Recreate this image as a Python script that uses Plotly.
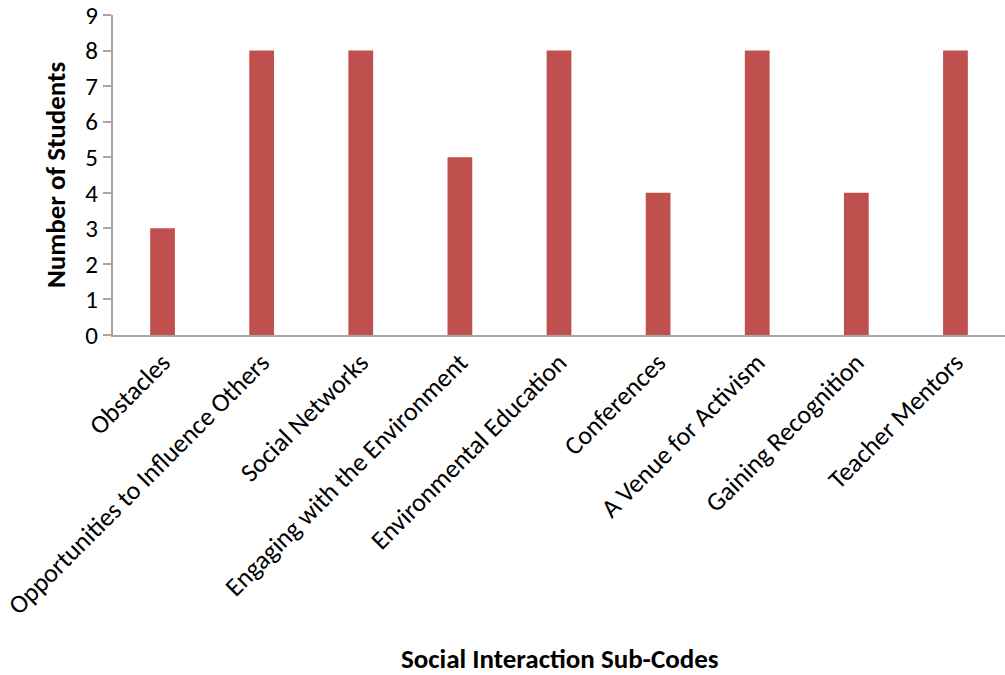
import plotly.graph_objects as go

categories = ["Obstacles", "Opportunities to Influence Others", "Social Networks",
              "Engaging with the Environment", "Environmental Education", "Conferences",
              "A Venue for Activism", "Gaining Recognition", "Teacher Mentors"]
students = [3, 8, 8, 5, 8, 4, 8, 4, 8]
y_ticks = list(range(0, 10))

FONT = "Calibri, Carlito, Lato, sans-serif"

fig = go.Figure(go.Bar(x=categories, y=students, marker_color="#C0504D",
                       marker_line_width=0, width=0.25))

L, T, B = 113, 15, 340
plot_h = 675 - T - B
plot_w = 1005 - L

fig.update_layout(
    width=1005, height=675,
    margin=dict(l=L, r=0, t=T, b=B),
    paper_bgcolor="white", plot_bgcolor="white",
    font=dict(family=FONT, color="black"),
    showlegend=False,
    xaxis=dict(
        tickangle=-45, tickfont=dict(size=26), showgrid=False, automargin=False,
        showline=True, linecolor="#A6A6A6", linewidth=2, ticks="",
    ),
    yaxis=dict(
        range=[0, 9], tickvals=y_ticks, ticktext=[str(v) for v in y_ticks],
        tickfont=dict(size=25), showgrid=False,
        automargin=False, ticklabeloverflow="allow",
        showline=True, linecolor="#A6A6A6", linewidth=2, ticks="outside",
        tickcolor="#A6A6A6", ticklen=8, tickwidth=2, zeroline=False,
    ),
    annotations=[
        dict(text="<b>Social Interaction Sub-Codes</b>", xref="paper", yref="paper",
             x=(560 - L) / plot_w, y=(335 - 658) / plot_h,
             xanchor="center", yanchor="middle", showarrow=False, font=dict(size=27)),
        dict(text="<b>Number of Students</b>", textangle=-90, showarrow=False,
             xref="paper", yref="paper", x=(55 - L) / plot_w, y=0.5,
             xanchor="center", yanchor="middle", font=dict(size=27)),
    ],
)

fig.write_html("out.html")
